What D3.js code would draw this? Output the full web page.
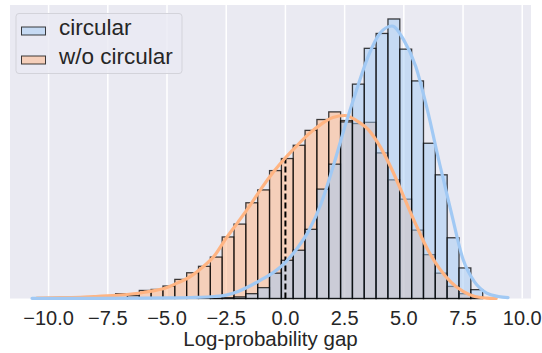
<!DOCTYPE html>
<html>
<head>
<meta charset="utf-8">
<script src="https://cdn.jsdelivr.net/npm/d3@7"></script>
<style>
  body { margin: 0; background: #fff; }
  svg { display: block; font-family: "Liberation Sans", Arial, sans-serif; }
</style>
</head>
<body>
<svg id="chart" width="542" height="353"></svg>
<script>
// histogram bin edges (log-probability gap)
var binEdges = [-7.67, -7.17, -6.67, -6.17, -5.67, -5.17, -4.67, -4.17, -3.67, -3.17,
    -2.67, -2.17, -1.67, -1.17, -0.67, -0.17, 0.33, 0.83, 1.33, 1.83,
    2.33, 2.83, 3.33, 3.83, 4.33, 4.83, 5.33, 5.83, 6.33, 6.83,
    7.33, 7.83, 8.33];

var circularCounts = [0, 0, 0, 0, 0, 0, 0, 0, 0, 1,
    4, 8, 24, 54, 126, 190, 240, 344, 544, 668,
    878, 1066, 1244, 1318, 1390, 1240, 1082, 772, 615, 302,
    152, 44];

var noCircularCounts = [5, 24, 14, 40, 45, 62, 95, 128, 160, 206,
    306, 370, 476, 540, 636, 696, 762, 836, 890, 928,
    885, 870, 876, 724, 590, 494, 340, 218, 126, 60,
    24, 6];

// kde curves (same units as counts)
var circularKdeX = [-10.7, -8, -6, -5, -4, -3, -2.5, -2, -1.5, -1, -0.5, 0, 0.5, 1, 1.5, 2,
    2.5, 3, 3.5, 4, 4.5, 5, 5.5, 6, 6.5, 7, 7.5, 8, 8.5, 9, 9.4];
var circularKdeY = [1, 1, 2, 3, 5, 10, 17, 35, 62, 95, 130, 180, 250, 340, 470, 650,
    850, 1035, 1205, 1320, 1355, 1285, 1155, 935, 675, 430, 195, 80, 27, 10, 4];

var noCircularKdeX = [-10.5, -9.5, -8.5, -8, -7, -6, -5, -4.5, -4, -3.5, -3, -2.5, -2, -1.5, -1, -0.5,
    0, 0.5, 1, 1.5, 2, 2.5, 3, 3.5, 4, 4.5, 5, 5.5, 6, 6.5, 7, 7.5, 8, 8.5, 8.9];
var noCircularKdeY = [2, 4, 7, 10, 17, 30, 55, 80, 110, 155, 212, 300, 380, 462, 550, 630,
    700, 762, 820, 866, 900, 910, 885, 840, 755, 640, 505, 370, 245, 150, 80, 35, 10, 2, 0];

var xTicks = [-10, -7.5, -5, -2.5, 0, 2.5, 5, 7.5, 10];
var seriesNames = ['circular', 'w/o circular'];
var seriesColors = ['#a1c9f4', '#ffb482'];

var svg = d3.select('#chart');
var plotLeft = 10, plotRight = 531, plotTop = 5, plotBottom = 298.5;

var x = d3.scaleLinear().domain([-11.63, 10.37]).range([plotLeft, plotRight]);
var yMax = d3.max(circularCounts.concat(noCircularCounts)) * 1.05;
var y = d3.scaleLinear().domain([0, yMax]).range([plotBottom, plotTop]);

svg.append('rect')
    .attr('x', plotLeft).attr('y', plotTop)
    .attr('width', plotRight - plotLeft).attr('height', plotBottom - plotTop)
    .attr('fill', '#eaeaf2');

svg.append('g')
    .selectAll('line')
    .data(xTicks)
    .join('line')
    .attr('x1', function(d) { return x(d); })
    .attr('x2', function(d) { return x(d); })
    .attr('y1', plotTop).attr('y2', plotBottom)
    .attr('stroke', '#fff')
    .attr('stroke-width', 1.5);

function toBins(counts) {
    return counts.map(function(c, i) {
        return { x0: binEdges[i], x1: binEdges[i + 1], count: c };
    }).filter(function(d) { return d.count > 0; });
}

function drawBars(counts, color) {
    svg.append('g')
        .selectAll('rect')
        .data(toBins(counts))
        .join('rect')
        .attr('x', function(d) { return x(d.x0); })
        .attr('y', function(d) { return y(d.count); })
        .attr('width', function(d) { return x(d.x1) - x(d.x0); })
        .attr('height', function(d) { return y(0) - y(d.count); })
        .attr('fill', color)
        .attr('fill-opacity', 0.5)
        .attr('stroke', '#000')
        .attr('stroke-opacity', 0.75)
        .attr('stroke-width', 1.3);
}

// orange underneath, blue on top
drawBars(noCircularCounts, seriesColors[1]);
drawBars(circularCounts, seriesColors[0]);

var line = d3.line()
    .x(function(d) { return x(d[0]); })
    .y(function(d) { return y(d[1]); })
    .curve(d3.curveMonotoneX);

// dashed marker at zero gap, up to the w/o circular kde
var zeroIdx = noCircularKdeX.indexOf(0);
svg.append('line')
    .attr('x1', x(0)).attr('x2', x(0))
    .attr('y1', y(0)).attr('y2', y(noCircularKdeY[zeroIdx]))
    .attr('stroke', '#000')
    .attr('stroke-width', 2)
    .attr('stroke-dasharray', '6,3');

svg.append('path')
    .datum(d3.zip(noCircularKdeX, noCircularKdeY))
    .attr('d', line)
    .attr('fill', 'none')
    .attr('stroke', seriesColors[1])
    .attr('stroke-width', 3.2)
    .attr('stroke-linecap', 'round');

svg.append('path')
    .datum(d3.zip(circularKdeX, circularKdeY))
    .attr('d', line)
    .attr('fill', 'none')
    .attr('stroke', seriesColors[0])
    .attr('stroke-width', 3.2)
    .attr('stroke-linecap', 'round');

// x axis labels
svg.append('g')
    .selectAll('text')
    .data(xTicks)
    .join('text')
    .attr('x', function(d) { return x(d); })
    .attr('y', 324.5)
    .attr('text-anchor', 'middle')
    .attr('font-size', 20)
    .attr('fill', '#262626')
    .text(function(d) { return d3.format('.1f')(d); });

svg.append('text')
    .attr('x', (plotLeft + plotRight) / 2)
    .attr('y', 346)
    .attr('text-anchor', 'middle')
    .attr('font-size', 20.5)
    .attr('fill', '#262626')
    .text('Log-probability gap');

// legend
var legend = svg.append('g');
legend.append('rect')
    .attr('x', 16).attr('y', 13.5)
    .attr('width', 166).attr('height', 60)
    .attr('rx', 3)
    .attr('fill', 'rgba(234,234,242,0.8)')
    .attr('stroke', '#d3d3da')
    .attr('stroke-width', 1);

var items = legend.selectAll('g.item')
    .data(seriesNames)
    .join('g')
    .attr('class', 'item')
    .attr('transform', function(d, i) { return 'translate(0,' + (i * 29) + ')'; });

items.append('rect')
    .attr('x', 21.5).attr('y', 27)
    .attr('width', 24).attr('height', 8)
    .attr('fill', function(d, i) { return seriesColors[i]; })
    .attr('fill-opacity', 0.5)
    .attr('stroke', '#000')
    .attr('stroke-opacity', 0.75)
    .attr('stroke-width', 1);

items.append('text')
    .attr('x', 59)
    .attr('y', 35)
    .attr('font-size', 22.5)
    .attr('fill', '#262626')
    .text(function(d) { return d; });
</script>
</body>
</html>
